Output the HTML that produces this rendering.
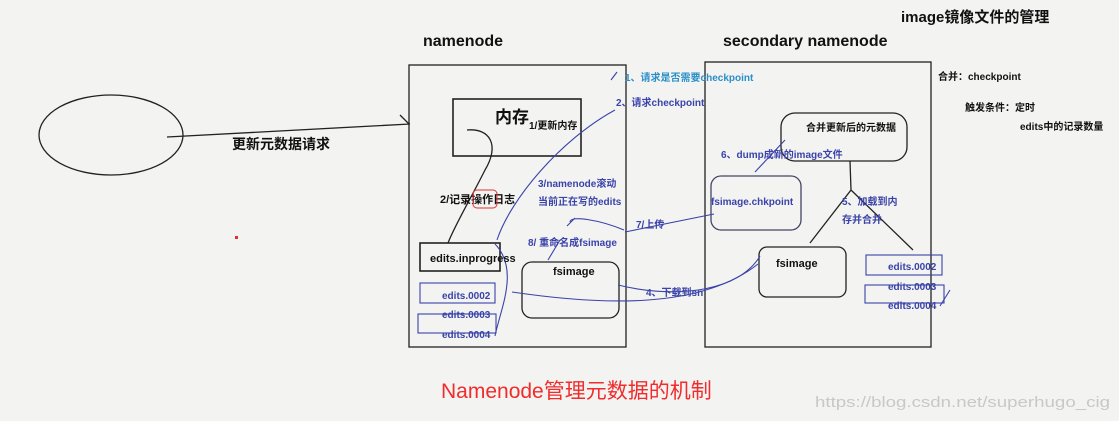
<!DOCTYPE html>
<html><head><meta charset="utf-8"><style>
html,body{margin:0;padding:0;background:#f3f3f2;}
svg{display:block;font-family:"Liberation Sans","Noto Sans CJK SC",sans-serif;}
.b{font-weight:bold;}
</style></head><body>
<svg width="1119" height="421" viewBox="0 0 1119 421" xmlns="http://www.w3.org/2000/svg">
<rect width="1119" height="421" fill="#f3f3f2"/>
<g fill="none" stroke="#222" stroke-width="1.3">
<ellipse cx="111" cy="135" rx="72" ry="40"/>
<path d="M167 137 L410 124 M400 115 L409 124"/>
<rect x="409" y="65" width="217" height="282"/>
<rect x="453" y="99" width="128" height="57" stroke-width="1.6"/>
<path d="M467 130 C490 128 500 145 485 170 C470 200 455 225 448 243"/>
<rect x="420" y="243" width="80" height="28" stroke-width="1.6"/>
<rect x="522" y="262" width="97" height="56" rx="10"/>
<rect x="705" y="62" width="226" height="285"/>
<rect x="781" y="113" width="126" height="48" rx="14"/>
<rect x="711" y="176" width="90" height="54" rx="10" stroke="#446"/>
<rect x="759" y="247" width="87" height="50" rx="8"/>
<path d="M850 161 L851 190 L810 243 M851 190 L913 250"/>
</g>
<g fill="none" stroke="#3a43a8" stroke-width="1.1">
<rect x="420" y="283" width="75" height="20"/>
<rect x="418" y="314" width="78" height="19"/>
<rect x="866" y="255" width="76" height="20"/>
<rect x="865" y="285" width="79" height="18"/>
<path d="M615 110 C560 140 510 200 497 240"/>
<path d="M495 244 C520 270 500 310 495 336"/>
<path d="M618 285 C680 300 740 290 760 256"/>
<path d="M512 292 C600 305 700 310 758 264"/>
<path d="M624 230 C600 220 570 215 570 222 M567 226 L575 218"/>
<path d="M714 214 L625 232"/>
<path d="M560 240 L548 260"/>
<path d="M785 140 L755 172"/>
<path d="M617 72 L611 80 M950 290 L940 306"/>
</g>
<text x="423" y="46" class="b" font-size="16" fill="#111">namenode</text>
<text x="723" y="46" class="b" font-size="16" fill="#111">secondary namenode</text>
<text x="901" y="22" class="b" font-size="15" fill="#111">image镜像文件的管理</text>
<text x="232" y="149" class="b" font-size="14" fill="#111">更新元数据请求</text>
<text x="495" y="123" class="b" font-size="17" fill="#111">内存</text>
<text x="529" y="129" class="b" font-size="10" fill="#111">1/更新内存</text>
<text x="440" y="203" class="b" font-size="11" fill="#111">2/记录操作日志</text>
<rect x="473" y="190" width="24" height="18" rx="4" fill="none" stroke="#d33" stroke-width="1"/>
<text x="430" y="262" class="b" font-size="11" fill="#111">edits.inprogress</text>
<text x="553" y="275" class="b" font-size="11" fill="#111">fsimage</text>
<text x="776" y="267" class="b" font-size="11" fill="#111">fsimage</text>
<text x="806" y="131" class="b" font-size="10" fill="#111">合并更新后的元数据</text>
<g class="b" font-size="10" fill="#3a43a8">
<text x="442" y="299">edits.0002</text>
<text x="442" y="318">edits.0003</text>
<text x="442" y="338">edits.0004</text>
<text x="888" y="270">edits.0002</text>
<text x="888" y="290">edits.0003</text>
<text x="888" y="309">edits.0004</text>
<text x="538" y="187">3/namenode滚动</text>
<text x="538" y="205">当前正在写的edits</text>
<text x="636" y="228">7/上传</text>
<text x="528" y="246">8/ 重命名成fsimage</text>
<text x="646" y="296">4、下载到sn</text>
<text x="616" y="106">2、请求checkpoint</text>
<text x="721" y="158">6、dump成新的image文件</text>
<text x="711" y="205">fsimage.chkpoint</text>
<text x="842" y="205">5、加载到内</text>
<text x="842" y="223">存并合并</text>
</g>
<text x="625" y="81" class="b" font-size="10" fill="#2a8fc8">1、请求是否需要checkpoint</text>
<g class="b" font-size="10" fill="#111">
<text x="938" y="80">合并：checkpoint</text>
<text x="965" y="111">触发条件：定时</text>
<text x="1020" y="130">edits中的记录数量</text>
</g>
<rect x="235" y="236" width="3" height="3" fill="#d33"/>
<text x="441" y="398" font-size="21" fill="#f02c2c">Namenode管理元数据的机制</text>
<text x="815" y="407" font-size="15" fill="#c8c8c8" textLength="295" lengthAdjust="spacingAndGlyphs">https://blog.csdn.net/superhugo_cig</text>
</svg>
</body></html>
